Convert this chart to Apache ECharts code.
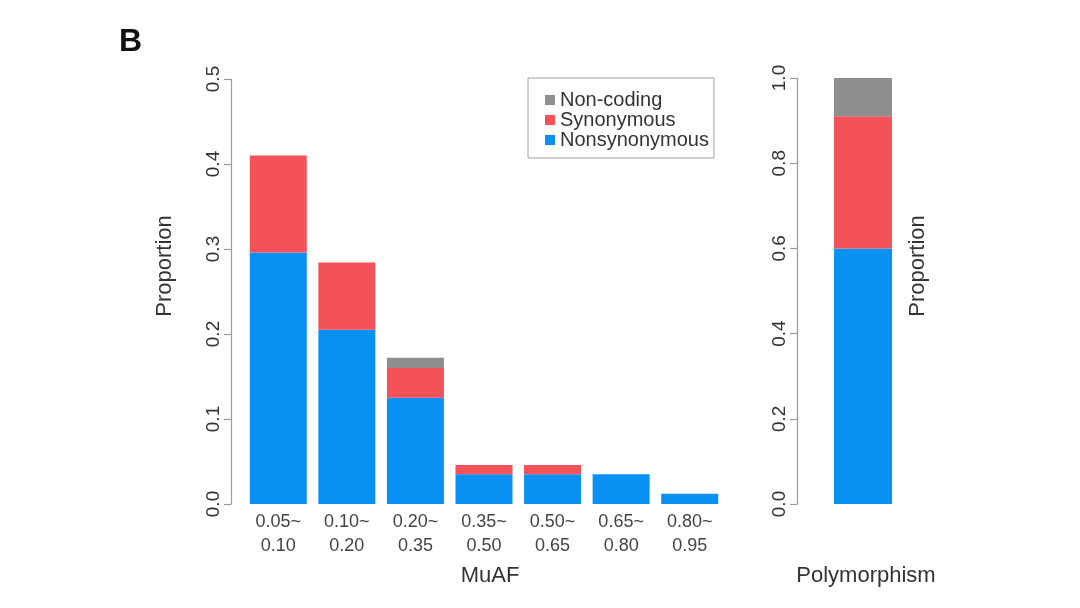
<!DOCTYPE html>
<html>
<head>
<meta charset="utf-8">
<script src="https://cdn.jsdelivr.net/npm/echarts@6/dist/echarts.min.js"></script>
<style>
html,body{margin:0;padding:0;background:#fff;}
#chart{width:1080px;height:608px;}
</style>
</head>
<body>
<div id="chart"></div>
<script>
// ---- data ----
var categories = ['0.05~\n0.10', '0.10~\n0.20', '0.20~\n0.35', '0.35~\n0.50', '0.50~\n0.65', '0.65~\n0.80', '0.80~\n0.95'];
var nonsynonymous = [0.296, 0.205, 0.125, 0.035, 0.035, 0.035, 0.012];
var synonymous    = [0.114, 0.079, 0.035, 0.011, 0.011, 0, 0];
var noncoding     = [0, 0, 0.012, 0, 0, 0, 0];
var polyCategory = ['Polymorphism'];
var polyNonsynonymous = [0.60];
var polySynonymous = [0.31];
var polyNoncoding = [0.09];
var leftTicks = {min: 0, max: 0.5, interval: 0.1};
var rightTicks = {min: 0, max: 1.0, interval: 0.2};

var FONT = "'Liberation Sans', Arial, Helvetica, sans-serif";
var BLUE = '#0891f2', RED = '#f4525a', GRAY = '#8e8e8e';
var TXT = '#333333', AX = '#9a9a9a';

function yAx(grid, t, offset) {
  return {
    type: 'value', gridIndex: grid, min: t.min, max: t.max, interval: t.interval,
    offset: offset,
    axisLine: {show: true, lineStyle: {color: AX, width: 1.2}},
    axisTick: {show: true, length: 7, lineStyle: {color: AX, width: 1.2}},
    splitLine: {show: false},
    axisLabel: {
      rotate: 90, margin: 8, fontSize: 19, color: TXT, fontFamily: FONT,
      formatter: function (v) { return v.toFixed(1); }
    }
  };
}

var chart = echarts.init(document.getElementById('chart'));
chart.setOption({
  backgroundColor: '#fff',
  animation: false,
  grid: [
    {left: 244, width: 480, top: 79, bottom: 104},
    {left: 820, width: 86, top: 78, bottom: 104}
  ],
  xAxis: [
    {type: 'category', gridIndex: 0, data: categories,
     axisLine: {show: false}, axisTick: {show: false},
     axisLabel: {fontSize: 18, lineHeight: 24, margin: 6, color: '#444', fontFamily: FONT}},
    {type: 'category', gridIndex: 1, data: polyCategory,
     axisLine: {show: false}, axisTick: {show: false}, axisLabel: {show: false}}
  ],
  yAxis: [yAx(0, leftTicks, 13), yAx(1, rightTicks, 23)],
  legend: {
    data: ['Non-coding', 'Synonymous', 'Nonsynonymous'],
    orient: 'vertical', left: 528, top: 78,
    padding: [12, 5, 8, 17],
    itemWidth: 10, itemHeight: 10, itemGap: 0,
    icon: 'rect',
    borderColor: '#a0a0a0', borderWidth: 1, borderRadius: 0,
    textStyle: {fontSize: 20, lineHeight: 20, color: TXT, fontFamily: FONT},
    selectedMode: false
  },
  series: [
    {name: 'Nonsynonymous', type: 'bar', stack: 'a', xAxisIndex: 0, yAxisIndex: 0, data: nonsynonymous, barWidth: 57, itemStyle: {color: BLUE}},
    {name: 'Synonymous', type: 'bar', stack: 'a', xAxisIndex: 0, yAxisIndex: 0, data: synonymous, barWidth: 57, itemStyle: {color: RED}},
    {name: 'Non-coding', type: 'bar', stack: 'a', xAxisIndex: 0, yAxisIndex: 0, data: noncoding, barWidth: 57, itemStyle: {color: GRAY}},
    {name: 'Nonsynonymous', type: 'bar', stack: 'b', xAxisIndex: 1, yAxisIndex: 1, data: polyNonsynonymous, barWidth: 58, itemStyle: {color: BLUE}},
    {name: 'Synonymous', type: 'bar', stack: 'b', xAxisIndex: 1, yAxisIndex: 1, data: polySynonymous, barWidth: 58, itemStyle: {color: RED}},
    {name: 'Non-coding', type: 'bar', stack: 'b', xAxisIndex: 1, yAxisIndex: 1, data: polyNoncoding, barWidth: 58, itemStyle: {color: GRAY}}
  ],
  graphic: [
    {type: 'text', left: 119, top: 26, style: {text: 'B', font: 'bold 32px ' + FONT, fill: '#111'}},
    {type: 'text', x: 165, y: 266, rotation: Math.PI / 2,
     style: {text: 'Proportion', font: '22px ' + FONT, fill: TXT, textAlign: 'center', textVerticalAlign: 'middle'}},
    {type: 'text', x: 918, y: 266, rotation: Math.PI / 2,
     style: {text: 'Proportion', font: '22px ' + FONT, fill: TXT, textAlign: 'center', textVerticalAlign: 'middle'}},
    {type: 'text', x: 490, y: 576,
     style: {text: 'MuAF', font: '22px ' + FONT, fill: TXT, textAlign: 'center', textVerticalAlign: 'middle'}},
    {type: 'text', x: 866, y: 576,
     style: {text: 'Polymorphism', font: '22px ' + FONT, fill: TXT, textAlign: 'center', textVerticalAlign: 'middle'}}
  ]
});
</script>
</body>
</html>
